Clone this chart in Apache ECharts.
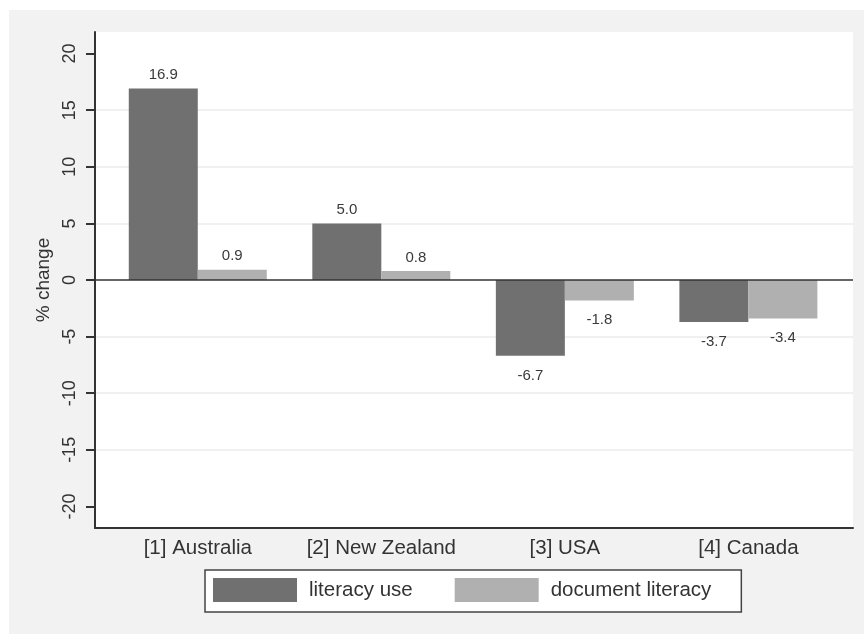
<!DOCTYPE html>
<html><head><meta charset="utf-8">
<script src="https://cdn.jsdelivr.net/npm/echarts@6/dist/echarts.min.js"></script>
<style>html,body{margin:0;padding:0;background:#fff}#c{width:864px;height:635px}</style>
</head><body><div id="c"></div>
<script>
var categories = ['[1] Australia', '[2] New Zealand', '[3] USA', '[4] Canada'];
var literacyUse = [16.9, 5.0, -6.7, -3.7];
var documentLiteracy = [0.9, 0.8, -1.8, -3.4];
var yTicks = [-20, -15, -10, -5, 0, 5, 10, 15, 20];
var seriesNames = ['literacy use', 'document literacy'];

var FONT = 'Liberation Sans, Arial, sans-serif';
function toData(vals) {
  return vals.map(function (v, i) {
    var neg = v < 0;
    return {
      value: [i + 1, v],
      label: { position: neg ? 'bottom' : 'top', distance: neg ? 12 : 6 }
    };
  });
}
var catPos = categories.map(function (c, i) { return i + 1; });

var chart = echarts.init(document.getElementById('c'), null, { renderer: 'canvas' });
chart.setOption({
  backgroundColor: '#ffffff',
  animation: false,
  graphic: [{ type: 'rect', shape: { x: 9, y: 10, width: 855, height: 624 }, style: { fill: '#f2f2f2' }, z: -10, silent: true }],
  grid: { left: 95, right: 11, top: 32, bottom: 107, show: true, backgroundColor: '#ffffff', borderWidth: 0 },
  legend: {
    data: seriesNames,
    left: 205, top: 570,
    orient: 'horizontal',
    itemWidth: 84, itemHeight: 24, itemGap: 42,
    padding: [8, 30, 10, 8],
    backgroundColor: '#ffffff', borderColor: '#444', borderWidth: 1.5,
    icon: 'rect',
    textStyle: { fontFamily: FONT, fontSize: 20.5, color: '#333', padding: [0, 0, 0, 7] }
  },
  xAxis: {
    type: 'value', min: 0.44, max: 4.57,
    axisLine: { onZero: false, lineStyle: { color: '#333', width: 2 } },
    axisTick: { show: false, customValues: catPos },
    splitLine: { show: false },
    axisLabel: {
      customValues: catPos, margin: 10,
      fontFamily: FONT, fontSize: 20.5, color: '#333',
      formatter: function (v) { return categories[Math.round(v) - 1] || ''; }
    }
  },
  yAxis: {
    type: 'value', min: -21.9, max: 21.9,
    name: '% change', nameLocation: 'middle', nameGap: 42, nameRotate: 90,
    nameTextStyle: { fontFamily: FONT, fontSize: 19, color: '#333' },
    axisLine: { show: true, onZero: false, lineStyle: { color: '#333', width: 2 } },
    axisTick: { show: true, length: 9, customValues: yTicks, lineStyle: { color: '#333', width: 2 } },
    axisLabel: { customValues: yTicks, rotate: 90, margin: 16, fontFamily: FONT, fontSize: 18, color: '#333' },
    splitLine: { show: true, lineStyle: { color: ['transparent', '#ebebeb', '#ebebeb', '#ebebeb', 'transparent', '#ebebeb', '#ebebeb', '#ebebeb', 'transparent'], width: 1.5 } }
  },
  series: [
    {
      name: seriesNames[0], type: 'bar', barWidth: 69, barGap: 0,
      itemStyle: { color: '#707070' },
      label: { show: true, fontFamily: FONT, fontSize: 15, color: '#3a3a3a', formatter: function (p) { return p.value[1].toFixed(1); } },
      data: toData(literacyUse),
      markLine: { silent: true, symbol: 'none', label: { show: false }, lineStyle: { color: '#333', width: 1.5, type: 'solid' }, data: [{ yAxis: 0 }] }
    },
    {
      name: seriesNames[1], type: 'bar', barWidth: 69, barGap: 0,
      itemStyle: { color: '#b0b0b0' },
      label: { show: true, fontFamily: FONT, fontSize: 15, color: '#3a3a3a', formatter: function (p) { return p.value[1].toFixed(1); } },
      data: toData(documentLiteracy)
    }
  ]
});
</script></body></html>
